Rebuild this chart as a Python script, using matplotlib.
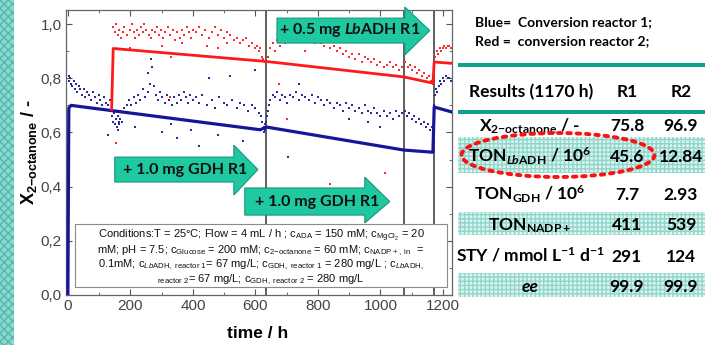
import numpy as np
import matplotlib
matplotlib.use("Agg")
import matplotlib.pyplot as plt
import matplotlib.transforms as mtransforms
from matplotlib.patches import Polygon, Rectangle, Ellipse

plt.rcParams['mathtext.fontset'] = 'custom'
plt.rcParams['mathtext.rm'] = 'Liberation Sans'
plt.rcParams['mathtext.it'] = 'Liberation Sans:italic'
plt.rcParams['mathtext.bf'] = 'Liberation Sans:bold'
plt.rcParams['mathtext.bfit'] = 'Lato:bold:italic'

# --- measured conversion, reactor 1 (blue) ---
blue_t = [2, 5, 8, 11, 14, 18, 22, 26, 30, 35, 40, 45, 50, 56, 62, 68, 74, 80, 86, 92, 98, 104, 110, 116, 122, 128, 134,
          138, 142, 145, 148, 150, 153, 156, 159, 162, 165, 168, 172, 128, 160,
          180, 188, 195, 202, 210, 218, 225, 232, 240, 248, 255, 262, 270, 276, 282, 288, 295, 302, 310, 318,
          325, 332, 340, 348, 355, 362, 370, 378, 385, 392, 400,
          265, 255, 215, 300, 330, 350, 395, 420, 450, 480, 520, 560, 600,
          410, 420, 430, 445, 460, 470, 485, 500, 510, 525, 540, 550, 565, 575, 590, 600, 610, 618,
          622, 626, 628, 630, 632, 634, 637, 640, 643,
          648, 655, 662, 670, 678, 686, 694, 702, 710, 720, 730, 740, 750, 760, 770, 780, 790, 800, 810, 820,
          830, 840, 850, 860, 870, 880, 890, 900, 910, 920, 930, 940, 950, 960, 970, 980, 990, 1000, 1010, 1020,
          1030, 1040, 1050, 1060, 1070,
          705, 740, 900, 960, 1000,
          1078, 1085, 1092, 1100, 1108, 1115, 1122, 1130, 1138, 1145, 1152, 1160, 1166,
          1172, 1175, 1178, 1182, 1186, 1190, 1195, 1200, 1205, 1210, 1215, 1220, 1225]
blue_x = [0.81, 0.79, 0.80, 0.78, 0.77, 0.79, 0.76, 0.78, 0.75, 0.77, 0.76, 0.74, 0.76, 0.73, 0.75, 0.74, 0.72, 0.75,
          0.73, 0.71, 0.74, 0.72, 0.70, 0.73, 0.71, 0.70, 0.72,
          0.68, 0.66, 0.64, 0.67, 0.63, 0.65, 0.62, 0.66, 0.64, 0.63, 0.65, 0.64, 0.59, 0.61,
          0.69, 0.70, 0.72, 0.70, 0.73, 0.71, 0.74, 0.72, 0.76, 0.73, 0.75, 0.78, 0.84, 0.77, 0.74, 0.72, 0.75, 0.73,
          0.71, 0.74, 0.72, 0.70, 0.73, 0.71, 0.74, 0.72, 0.75, 0.73, 0.71, 0.74, 0.72,
          0.87, 0.82, 0.62, 0.60, 0.63, 0.58, 0.61, 0.55, 0.80, 0.59, 0.81, 0.57, 0.83,
          0.73, 0.71, 0.74, 0.70, 0.72, 0.69, 0.73, 0.71, 0.70, 0.72, 0.69, 0.71, 0.70, 0.68, 0.70, 0.69, 0.67, 0.66,
          0.64, 0.62, 0.60, 0.63, 0.61, 0.64, 0.66, 0.68, 0.70,
          0.72, 0.74, 0.73, 0.75, 0.72, 0.74, 0.73, 0.71, 0.74, 0.73, 0.75, 0.72, 0.74, 0.73, 0.72, 0.74, 0.71, 0.73,
          0.72, 0.70, 0.72, 0.71, 0.69, 0.71, 0.70, 0.68, 0.71, 0.69, 0.70, 0.68, 0.69, 0.67, 0.70, 0.68, 0.67, 0.69,
          0.67, 0.66, 0.68, 0.66, 0.67, 0.65, 0.68, 0.66, 0.67,
          0.51, 0.78, 0.65, 0.64, 0.62,
          0.68, 0.66, 0.67, 0.65, 0.66, 0.64, 0.65, 0.63, 0.64, 0.62, 0.63, 0.61, 0.62,
          0.70, 0.74, 0.76, 0.75, 0.77, 0.79, 0.78, 0.80, 0.79, 0.81, 0.80, 0.80, 0.79]

# --- measured conversion, reactor 2 (red) ---
red_t = [145, 150, 155, 160, 165, 170, 175, 180, 190, 200, 205, 210, 215, 220, 228, 235, 240, 245, 250, 258,
         265, 270, 278, 285, 290, 298, 305, 312, 320, 328, 335, 342, 350, 358, 365, 372, 380, 388, 395, 400,
         155, 200, 230, 300, 330, 365, 326, 700,
         410, 420, 430, 440, 450, 460, 470, 480, 490, 500, 510, 520, 530, 540, 550, 560, 570, 580, 590, 600,
         605, 610, 615, 620, 625, 630,
         445, 480, 510,
         640, 648, 655, 662, 670, 678, 686, 694, 702, 710, 720, 730, 740, 750, 760, 770, 780, 790, 800, 810,
         820, 830, 840, 850, 860, 870, 880, 890, 900, 910, 920, 930, 940, 950, 960, 970, 980, 990, 1000, 1010,
         1020, 1030, 1040, 1050, 1060, 1070,
         675, 690, 720, 840, 1015, 760,
         1080, 1088, 1095, 1102, 1110, 1118, 1125, 1132, 1140, 1148, 1155, 1162, 1168,
         1172, 1176, 1180, 1185, 1190, 1195, 1200, 1205, 1210, 1215, 1220, 1225]
red_x = [0.99, 0.97, 1.00, 0.96, 0.98, 0.95, 0.97, 0.99, 0.96, 0.98, 1.00, 0.97, 0.95, 0.98, 0.96, 0.99, 0.97, 1.00,
         0.98, 0.96, 0.95, 0.98, 0.97, 0.99, 0.96, 0.98, 0.95, 0.97, 0.99, 0.96, 0.98, 0.94, 0.97, 0.95, 0.98, 0.96,
         0.99, 0.97, 0.95, 0.98,
         0.56, 0.91, 0.90, 0.92, 0.88, 0.93, 0.73, 0.65,
         0.97, 0.99, 0.96, 0.98, 0.95, 0.97, 0.99, 0.96, 0.98, 0.95, 0.97, 0.96, 0.94, 0.95, 0.93, 0.94, 0.95, 0.92,
         0.93, 0.91, 0.92, 0.90, 0.91, 0.88, 0.87, 0.86,
         0.92, 0.91, 0.93,
         0.88, 0.91, 0.93, 0.90, 0.94, 0.92, 0.95, 0.93, 0.96, 0.94, 0.95, 0.97, 0.95, 0.96, 0.94, 0.96, 0.95, 0.93,
         0.95, 0.93, 0.92, 0.94, 0.91, 0.92, 0.90, 0.91, 0.89, 0.90, 0.88, 0.89, 0.87, 0.89, 0.86, 0.88, 0.87, 0.86,
         0.87, 0.85, 0.86, 0.84, 0.85, 0.86, 0.84, 0.85, 0.83, 0.84,
         0.78, 0.99, 0.99, 0.41, 0.45, 0.90,
         0.86, 0.84, 0.85, 0.83, 0.84, 0.82, 0.83, 0.81, 0.82, 0.80, 0.81, 0.79, 0.78,
         0.84, 0.88, 0.90, 0.89, 0.91, 0.90, 0.91, 0.92, 0.91, 0.92, 0.92, 0.91]

# --- model curves ---
model1_t = [0, 3, 10, 615, 635, 1075, 1168, 1172, 1230]
model1_x = [0.0, 0.69, 0.70, 0.61, 0.62, 0.535, 0.527, 0.694, 0.675]
model2_t = [140, 145, 635, 1075, 1168, 1172, 1230]
model2_x = [0.685, 0.91, 0.862, 0.805, 0.782, 0.86, 0.855]

# enzyme additions
event_t = [635, 1075, 1170]

xticks = [0, 200, 400, 600, 800, 1000, 1200]
yticks = [0.0, 0.2, 0.4, 0.6, 0.8, 1.0]

# results table
table_rows = [r"X$_{\mathregular{2{-}octanone}}$ / -",
              r"TON$_{\mathbfit{Lb}\mathregular{ADH}}$ / 10$^{\mathregular{6}}$",
              r"TON$_{\mathregular{GDH}}$ / 10$^{\mathregular{6}}$",
              r"TON$_{\mathregular{NADP+}}$",
              r"STY / mmol L$^{\mathregular{-1}}$ d$^{\mathregular{-1}}$",
              "ee"]
r1_vals = ["75.8", "45.6", "7.7", "411", "291", "99.9"]
r2_vals = ["96.9", "12.84", "2.93", "539", "124", "99.9"]

W, H = 705, 345
fig = plt.figure(figsize=(W / 100, H / 100), dpi=100)
# pixel coordinates (origin top-left)
px = mtransforms.Affine2D().scale(1 / W, -1 / H).translate(0, 1) + fig.transFigure

ax = fig.add_axes([66 / W, 1 - 295 / H, (452 - 66) / W, (295 - 10) / H])
ax.set_xlim(-6, 1229)
ax.set_ylim(0, 1.052)

ax.scatter(blue_t, blue_x, s=4, marker='s', color='#2b2b9e', linewidths=0, zorder=3)
ax.scatter(red_t, red_x, s=4, marker='s', color='#ff2a2a', linewidths=0, zorder=3)
ax.plot(model1_t, model1_x, color='#16169a', lw=2.3, zorder=4)
ax.plot(model2_t, model2_x, color='#ff1a1a', lw=2.0, zorder=4)
for t in event_t:
    ax.axvline(t, color='#333333', lw=1.1, zorder=2)

ax.set_xticks(xticks)
ax.set_xticks(range(100, 1201, 200), minor=True)
ax.set_yticks(yticks)
ax.set_yticks([0.1, 0.3, 0.5, 0.7, 0.9], minor=True)
ax.set_xticklabels([str(v) for v in xticks], fontsize=11, color='#444444', family='Liberation Sans')
ax.set_yticklabels([f"{v:.1f}".replace('.', ',') for v in yticks], fontsize=11, color='#444444',
                   family='Liberation Sans')
ax.tick_params(which='both', direction='in', top=True, right=True, color='#555555')
ax.tick_params(which='major', length=4, pad=3)
ax.tick_params(which='minor', length=2)
for s in ax.spines.values():
    s.set_color('#666666')
    s.set_linewidth(0.9)

fig.text(258, 333, "time / h", transform=px, ha='center', va='center', fontsize=12.5,
         fontweight='bold', family='Liberation Sans')
fig.text(29, 152, r"X$_{\mathregular{2{-}octanone}}$ / -", transform=px, rotation=90, ha='center',
         va='center', fontsize=13, fontweight='bold', family='Liberation Sans')

# teal border strip on the left
fig.patches.append(Rectangle((0, 0), 14, H, transform=px, facecolor='#8fd6cc', edgecolor='#4dbcae',
                             hatch='xxxx', lw=0, figure=fig))

# arrows for enzyme additions (data coords)
arrows = [
    (669, 1078, 1158, 1.022, 0.930, 1.063, 0.886, r"+ 0.5 mg $\mathbfit{Lb}$ADH R1", 902, 0.978),
    (150, 531, 608, 0.509, 0.417, 0.553, 0.369, "+ 1.0 mg GDH R1", 374, 0.463),
    (566, 950, 1030, 0.395, 0.295, 0.435, 0.266, "+ 1.0 mg GDH R1", 797, 0.345),
]
for x0, xb, xt, yt, yb, yht, yhb, label, tx, ty in arrows:
    ym = (yt + yb) / 2
    poly = [(x0, yt), (xb, yt), (xb, yht), (xt, ym), (xb, yhb), (xb, yb), (x0, yb)]
    ax.add_patch(Polygon(poly, closed=True, facecolor='#1ec8a0', edgecolor='#17977c', lw=0.8,
                         zorder=6, clip_on=False))
    ax.text(tx, ty, label, ha='center', va='center', fontsize=11.5, fontweight='bold',
            family='Lato', color='#111111', zorder=7)

# conditions box
fig.patches.append(Rectangle((75, 224), 372, 63, transform=px, facecolor='white', edgecolor='#8a8a8a',
                             lw=0.8, zorder=5, figure=fig))
cond_lines = [
    r"Conditions:T = 25°C; Flow = 4 mL / h ; c$_{\mathregular{ADA}}$ = 150 mM; c$_{\mathregular{MgCl_2}}$ = 20",
    r"mM; pH = 7.5; c$_{\mathregular{Glucose}}$ = 200 mM; c$_{\mathregular{2{-}octanone}}$ = 60 mM; "
    r"c$_{\mathregular{NADP+,\ in}}$  =",
    r"0.1mM; c$_{\mathit{Lb}\mathregular{ADH,\ reactor\ 1}}$= 67 mg/L; c$_{\mathregular{GDH,\ reactor\ 1}}$"
    r" = 280 mg/L ; c$_{\mathit{Lb}\mathregular{ADH,}}$",
    r"${}_{\mathregular{reactor\ 2}}$= 67 mg/L; c$_{\mathregular{GDH,\ reactor\ 2}}$ = 280 mg/L",
]
for i, line in enumerate(cond_lines):
    fig.text(261, 238 + i * 14.8, line, transform=px, ha='center', va='baseline', fontsize=8.0,
             family='Liberation Sans', color='#111111', zorder=6)

# legend text
fig.text(475, 26, "Blue=  Conversion reactor 1;", transform=px, fontsize=10, fontweight='bold',
         family='Lato', va='baseline')
fig.text(475, 45, "Red =  conversion reactor 2;", transform=px, fontsize=10, fontweight='bold',
         family='Lato', va='baseline')

# table rules and shaded rows
for y in [65, 112]:
    fig.patches.append(Rectangle((458, y - 2), W - 458, 4, transform=px, facecolor='#12a08e', lw=0,
                                 figure=fig))
for y0, y1 in [(137, 173), (212, 235), (273, 297)]:
    fig.patches.append(Rectangle((458, y0), W - 458, y1 - y0, transform=px, facecolor='#dcf3ef',
                                 edgecolor='#8fd6cb', hatch='++++', lw=0, figure=fig))

fig.text(531, 97, "Results (1170 h)", transform=px, ha='center', va='baseline', fontsize=12.5,
         fontweight='bold', family='Lato')
fig.text(627, 97, "R1", transform=px, ha='center', va='baseline', fontsize=12.5, fontweight='bold',
         family='Lato')
fig.text(681, 97, "R2", transform=px, ha='center', va='baseline', fontsize=12.5, fontweight='bold',
         family='Lato')
row_base = [131, 162, 200, 230, 262, 292]
for lab, v1, v2, yb in zip(table_rows, r1_vals, r2_vals, row_base):
    style = 'italic' if lab == 'ee' else 'normal'
    fig.text(530, yb, lab, transform=px, ha='center', va='baseline', fontsize=12.5, fontweight='bold',
             family='Lato', style=style, zorder=6)
    fig.text(627, yb, v1, transform=px, ha='center', va='baseline', fontsize=12.5, fontweight='bold',
             family='Lato', zorder=6)
    fig.text(681, yb, v2, transform=px, ha='center', va='baseline', fontsize=12.5, fontweight='bold',
             family='Lato', zorder=6)

# dotted ellipse highlighting TON LbADH
fig.patches.append(Ellipse((558, 155), 193, 44, transform=px, fill=False, edgecolor='#ff1010', lw=2.8,
                           linestyle=(0, (0.9, 1.5)), capstyle='round', zorder=8, figure=fig))

fig.savefig("out.png", dpi=100)
